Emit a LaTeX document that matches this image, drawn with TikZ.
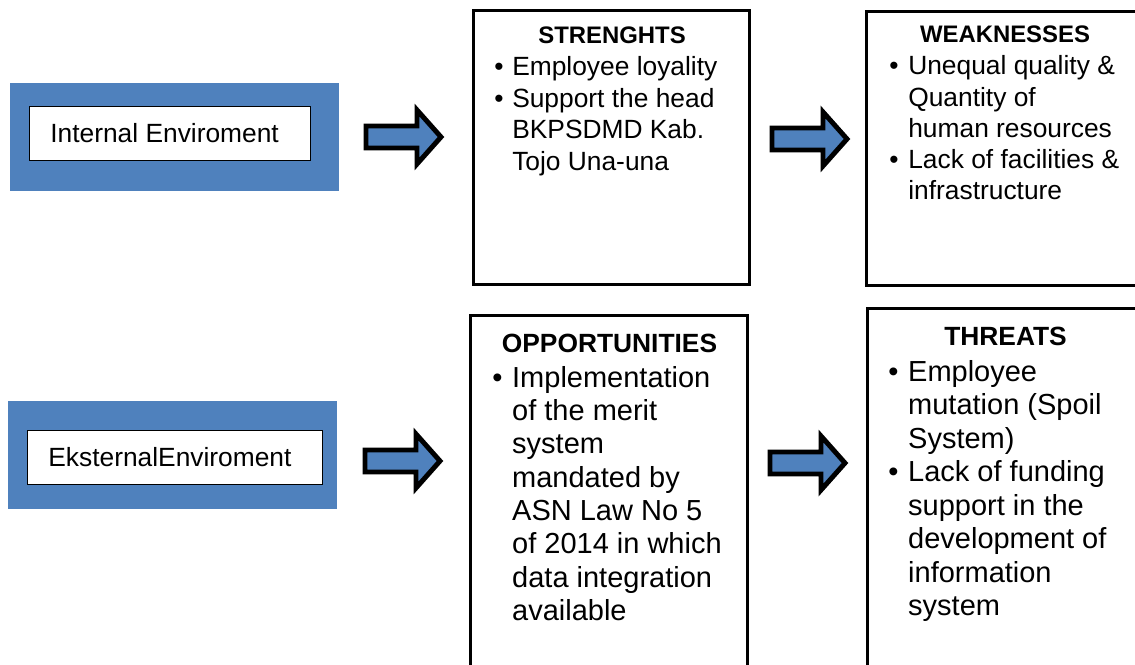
\documentclass[tikz,border=0pt]{standalone}
\usepackage{fontspec}
\setmainfont{Liberation Sans}
\usepackage{tikz}
\definecolor{swotblue}{HTML}{4F81BD}
\tikzset{
    swotbox/.style={draw, rectangle, line width=1.7pt, inner sep=0pt},
    envbox/.style={draw, rectangle, fill=white, line width=0.6pt, inner sep=0pt},
    headtext/.style={anchor=base, inner sep=0pt},
    itemtext/.style={anchor=base west, inner sep=0pt},
    fatarrow/.pic={
        \draw[fill=swotblue, line width=2.8pt, line join=miter]
            (0,-11) -- (51,-11) -- (51,-27) -- (75,0) -- (51,27) -- (51,11) -- (0,11) -- cycle;
    },
}
\newcommand{\bul}[1]{\makebox[#1][l]{\textbullet}}

\begin{document}
\begin{tikzpicture}[x=0.02cm, y=-0.02cm]
\useasboundingbox (0,0) rectangle (1135,665);
\clip (0,0) rectangle (1135,665);

% environments
\fill[swotblue] (10,83) rectangle (339,191);
\node[envbox, minimum width=5.62cm, minimum height=1.08cm] (intbox) at (170,133.5) {};
\node[itemtext, font=\fontsize{15}{18}\selectfont] (inttext) at (50,143) {Internal Enviroment};

\fill[swotblue] (8,401) rectangle (337,509);
\node[envbox, minimum width=5.9cm, minimum height=1.08cm] (extbox) at (175,457.5) {};
\node[itemtext, font=\fontsize{15}{18}\selectfont] (exttext) at (48,466) {EksternalEnviroment};

% arrows
\pic (a1) at (366,137) {fatarrow};
\pic (a2) at (772,139) {fatarrow};
\pic (a3) at (365,461) {fatarrow};
\pic (a4) at (770,463) {fatarrow};

% swot boxes
\node[swotbox, minimum width=5.52cm, minimum height=5.48cm] (str) at (611.5,147.5) {};
\node[swotbox, minimum width=5.63cm, minimum height=5.48cm] (weak) at (1007,148.5) {};
\node[swotbox, minimum width=5.54cm, minimum height=7.29cm] (opp) at (609,497.75) {};
\node[swotbox, minimum width=5.61cm, minimum height=7.43cm] (thr) at (1007.75,494.25) {};

\node[headtext, font=\fontsize{13.6}{16}\selectfont\bfseries] (strhead) at (612,44) {STRENGHTS};
\node[headtext, font=\fontsize{13.6}{16}\selectfont\bfseries] (weakhead) at (1005,43) {WEAKNESSES};
\node[headtext, font=\fontsize{15}{18}\selectfont\bfseries] (opphead) at (609.5,352) {OPPORTUNITIES};
\node[headtext, font=\fontsize{15}{18}\selectfont\bfseries] (thrhead) at (1005.5,345) {THREATS};

\node[itemtext, font=\fontsize{15}{17.9}\selectfont] (strlist) at (494,76) {\begin{tabular}[t]{@{}l@{}l@{}}
\bul{10.2pt} & Employee loyality\\
\bul{10.2pt} & Support the head\\
 & BKPSDMD Kab.\\
 & Tojo Una-una
\end{tabular}};
\node[itemtext, font=\fontsize{15}{17.7}\selectfont] (weaklist) at (889,75) {\begin{tabular}[t]{@{}l@{}l@{}}
\bul{10.8pt} & Unequal quality \&\\
 & Quantity of\\
 & human resources\\
\bul{10.8pt} & Lack of facilities \&\\
 & infrastructure
\end{tabular}};
\node[itemtext, font=\fontsize{16.5}{19}\selectfont] (opplist) at (492,387) {\begin{tabular}[t]{@{}l@{}l@{}}
\bul{11.3pt} & Implementation\\
 & of the merit\\
 & system\\
 & mandated by\\
 & ASN Law No 5\\
 & of 2014 in which\\
 & data integration\\
 & available
\end{tabular}};
\node[itemtext, font=\fontsize{16.5}{19.1}\selectfont] (thrlist) at (888,381) {\begin{tabular}[t]{@{}l@{}l@{}}
\bul{11.3pt} & Employee\\
 & mutation (Spoil\\
 & System)\\
\bul{11.3pt} & Lack of funding\\
 & support in the\\
 & development of\\
 & information\\
 & system
\end{tabular}};
\end{tikzpicture}
\end{document}
